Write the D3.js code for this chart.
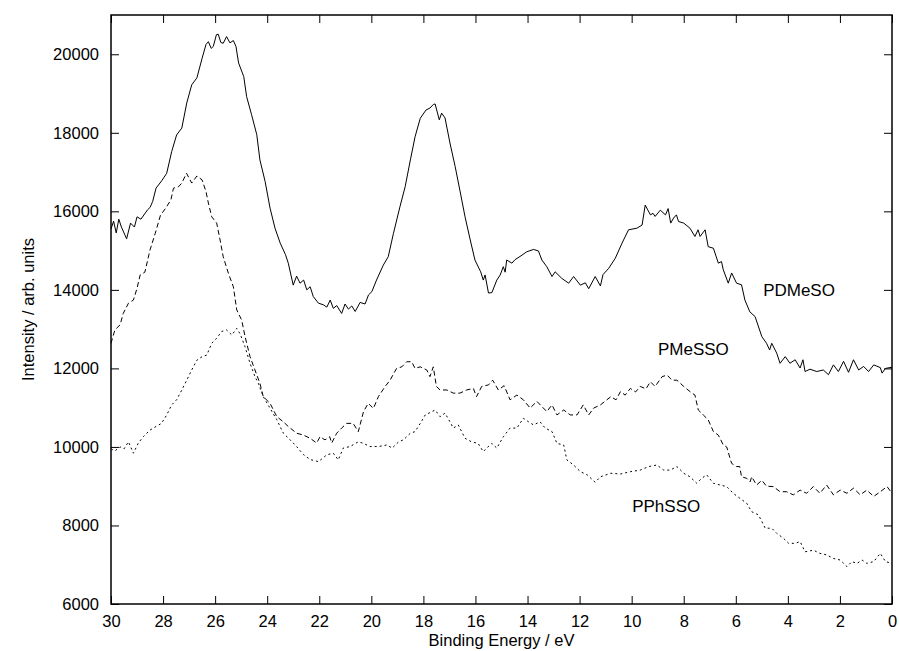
<!DOCTYPE html>
<html>
<head>
<meta charset="utf-8">
<script src="https://cdn.jsdelivr.net/npm/d3@7"></script>
<style>
  body { margin: 0; background: #fff; }
  svg text { font-family: "Liberation Sans", Arial, Helvetica, sans-serif; fill: #000; }
</style>
</head>
<body>
<div id="chart"></div>
<script>
// spectra: [binding energy (eV), intensity]
const pdmeso = [
  [30.0,15550],[29.9,15750],[29.8,15450],[29.7,15800],[29.6,15600],[29.4,15300],[29.25,15700],[29.1,15600],
  [29.0,15860],[28.85,15800],[28.6,16035],[28.5,16100],[28.4,16250],[28.27,16590],[28.05,16780],[27.86,16970],
  [27.67,17520],[27.48,17945],[27.28,18120],[27.09,18760],[26.9,19220],[26.7,19400],[26.5,19900],[26.35,20250],
  [26.26,20320],[26.15,20150],[26.07,20200],[25.95,20500],[25.88,20510],[25.78,20300],[25.69,20280],[25.56,20450],
  [25.43,20290],[25.3,20350],[25.2,20200],[25.1,19780],[24.9,19430],[24.79,18920],[24.6,18460],[24.4,17950],
  [24.28,17310],[24.08,16760],[23.89,16080],[23.7,15570],[23.5,15190],[23.3,14900],[23.19,14680],[23.0,14120],
  [22.87,14350],[22.74,14170],[22.6,14250],[22.48,14000],[22.35,14080],[22.23,13830],[22.03,13660],[21.84,13620],
  [21.71,13560],[21.58,13740],[21.46,13530],[21.33,13600],[21.14,13400],[21.01,13640],[20.88,13510],[20.75,13590],
  [20.62,13450],[20.43,13680],[20.24,13640],[20.11,13870],[19.98,13955],[19.8,14250],[19.54,14630],[19.35,14845],
  [19.15,15440],[18.9,16120],[18.7,16630],[18.5,17310],[18.32,17900],[18.12,18370],[17.9,18580],[17.75,18630],
  [17.62,18720],[17.55,18735],[17.39,18330],[17.3,18500],[17.17,18380],[16.98,17740],[16.78,17140],[16.6,16540],
  [16.4,15860],[16.2,15270],[16.02,14760],[15.8,14460],[15.7,14250],[15.63,14380],[15.5,13920],[15.37,13930],
  [15.18,14250],[15.05,14380],[14.93,14590],[14.86,14450],[14.8,14760],[14.6,14680],[14.48,14770],[14.29,14850],
  [14.03,14970],[13.77,15030],[13.58,14990],[13.45,14760],[13.26,14590],[13.06,14340],[12.94,14460],[12.68,14290],
  [12.42,14170],[12.23,14340],[11.97,14120],[11.78,14180],[11.65,14030],[11.4,14340],[11.2,14100],[11.1,14390],
  [10.88,14550],[10.63,14805],[10.37,15190],[10.12,15530],[9.8,15570],[9.6,15650],[9.48,16160],[9.28,15910],
  [9.18,15950],[9.1,15870],[8.9,16030],[8.7,15910],[8.6,16070],[8.5,15700],[8.39,15830],[8.28,15910],
  [8.2,15740],[8.0,15700],[7.76,15570],[7.57,15360],[7.45,15530],[7.37,15360],[7.18,15530],[7.06,15100],
  [6.86,15060],[6.67,14680],[6.55,14720],[6.48,14510],[6.29,14170],[6.16,14430],[5.97,14170],[5.78,14130],
  [5.65,13740],[5.46,13440],[5.26,13320],[5.0,12810],[4.82,12640],[4.7,12470],[4.62,12640],[4.43,12390],
  [4.3,12130],[4.1,12300],[3.92,12130],[3.72,12220],[3.53,12010],[3.42,12220],[3.34,11920],[3.15,11980],
  [2.89,11920],[2.64,11960],[2.44,11840],[2.25,12090],[2.06,11920],[1.86,12180],[1.67,11900],[1.48,12220],
  [1.28,11960],[1.09,12050],[0.9,11920],[0.7,12090],[0.45,12020],[0.38,11880],[0.25,12000],[0.0,12030]
]

const pmesso = [
  [30.0,12640],[29.85,12980],[29.65,13110],[29.53,13400],[29.33,13660],[29.14,13740],[29.0,14040],[28.88,14380],
  [28.7,14450],[28.5,15020],[28.3,15440],[28.1,15900],[27.9,16080],[27.7,16290],[27.6,16590],[27.4,16630],
  [27.28,16720],[27.1,16970],[26.9,16720],[26.7,16900],[26.5,16800],[26.35,16500],[26.26,16210],[26.13,15860],
  [25.94,15700],[25.81,15270],[25.69,14845],[25.49,14420],[25.3,14080],[25.17,13490],[24.98,13230],[24.85,12810],
  [24.66,12300],[24.47,11960],[24.28,11620],[24.15,11280],[23.89,11110],[23.63,10770],[23.38,10640],[23.19,10520],
  [22.87,10350],[22.6,10300],[22.35,10220],[22.1,10100],[21.97,10260],[21.78,10180],[21.6,10260],[21.52,10100],
  [21.33,10350],[21.14,10480],[20.95,10600],[20.7,10600],[20.5,10390],[20.3,10900],[20.12,11110],[19.92,10980],
  [19.73,11280],[19.47,11540],[19.28,11700],[19.03,12000],[18.83,12040],[18.64,12170],[18.45,12170],[18.32,12000],
  [18.12,12040],[17.87,11960],[17.75,11790],[17.62,12040],[17.5,11540],[17.36,11450],[17.1,11450],[16.85,11370],
  [16.6,11370],[16.34,11450],[16.08,11490],[15.96,11280],[15.76,11540],[15.5,11580],[15.34,11700],[15.12,11450],
  [14.9,11560],[14.67,11200],[14.41,11320],[14.16,11200],[13.9,10990],[13.64,11160],[13.45,11030],[13.26,10900],
  [13.06,11070],[12.87,10815],[12.61,10940],[12.36,10815],[12.1,10815],[11.86,11070],[11.65,10815],[11.46,10990],
  [11.2,11070],[10.8,11280],[10.6,11200],[10.43,11410],[10.25,11320],[10.05,11490],[9.85,11400],[9.67,11540],
  [9.45,11480],[9.28,11660],[9.1,11540],[8.83,11790],[8.64,11830],[8.45,11700],[8.26,11700],[8.0,11540],
  [7.76,11410],[7.57,11320],[7.44,10940],[7.25,10815],[7.06,10690],[6.86,10390],[6.67,10300],[6.48,10050],
  [6.35,10000],[6.16,9580],[5.97,9500],[5.85,9500],[5.78,9240],[5.58,9200],[5.45,9110],[5.39,9240],
  [5.2,9030],[5.0,9150],[4.82,9000],[4.56,8990],[4.3,8860],[4.05,8860],[3.79,8780],[3.53,8900],
  [3.28,8820],[3.02,8990],[2.77,8820],[2.51,9030],[2.25,8780],[1.99,8900],[1.73,8820],[1.48,8950],
  [1.22,8780],[0.97,8900],[0.7,8740],[0.45,8860],[0.19,8990],[0.0,8820]
]

const pphsso = [
  [30.0,9950],[29.85,9900],[29.65,10000],[29.5,9950],[29.33,10130],[29.14,9840],[28.95,10100],[28.76,10260],
  [28.5,10430],[28.27,10520],[28.06,10600],[27.86,10815],[27.67,11070],[27.48,11200],[27.28,11450],[27.09,11700],
  [26.9,11960],[26.7,12210],[26.5,12300],[26.32,12340],[26.13,12640],[25.94,12770],[25.75,12940],[25.56,12980],
  [25.36,12850],[25.17,13020],[25.04,12880],[24.85,12550],[24.66,12130],[24.47,11790],[24.34,11620],[24.15,11280],
  [23.89,10985],[23.63,10690],[23.38,10350],[23.12,10180],[22.87,10010],[22.6,9800],[22.35,9680],[22.03,9625],
  [21.71,9800],[21.46,9840],[21.27,9670],[21.08,9970],[20.82,10010],[20.5,10130],[20.3,10090],[20.05,10010],
  [19.73,10010],[19.4,10050],[19.2,9970],[18.95,10130],[18.77,10180],[18.5,10350],[18.32,10390],[18.12,10600],
  [17.93,10815],[17.67,10900],[17.55,10940],[17.36,10770],[17.17,10860],[16.98,10640],[16.85,10480],[16.66,10560],
  [16.4,10220],[16.15,10130],[15.9,10090],[15.7,9880],[15.57,9970],[15.37,10090],[15.18,9970],[14.93,10260],
  [14.67,10480],[14.41,10480],[14.16,10730],[13.96,10640],[13.77,10560],[13.52,10640],[13.32,10480],[13.06,10390],
  [12.87,10090],[12.61,10050],[12.49,9670],[12.23,9540],[11.97,9370],[11.71,9290],[11.4,9100],[11.2,9240],
  [10.8,9330],[10.43,9310],[10.05,9370],[9.67,9410],[9.35,9500],[9.03,9540],[8.77,9410],[8.52,9410],
  [8.26,9500],[8.0,9330],[7.76,9240],[7.5,9075],[7.31,9200],[7.12,9290],[6.86,9075],[6.6,9030],
  [6.35,8990],[6.1,8820],[5.84,8690],[5.58,8565],[5.39,8350],[5.13,8270],[4.87,7930],[4.62,7930],
  [4.43,7800],[4.17,7675],[3.97,7545],[3.72,7545],[3.53,7590],[3.34,7330],[3.02,7370],[2.77,7290],
  [2.51,7250],[2.25,7160],[1.99,7120],[1.73,6950],[1.54,7080],[1.34,7035],[1.15,7120],[0.97,7035],
  [0.7,7080],[0.45,7290],[0.25,7080],[0.0,7035]
]

const xTicks = [30, 28, 26, 24, 22, 20, 18, 16, 14, 12, 10, 8, 6, 4, 2, 0]
const yTicks = [6000, 8000, 10000, 12000, 14000, 16000, 18000, 20000]

// label anchors in data units (energy, intensity)
const seriesLabels = [
  {name: "PDMeSO", e: 4.95, v: 13845},
  {name: "PMeSSO", e: 8.99, v: 12342},
  {name: "PPhSSO", e: 9.98, v: 8343}
]

const width = 899, height = 651
const margin = {top: 15, right: 7, bottom: 47, left: 111}
const w = width - margin.left - margin.right
const h = height - margin.top - margin.bottom

const svg = d3.select("#chart").append("svg")
  .attr("width", width)
  .attr("height", height)

const g = svg.append("g")
  .attr("transform", "translate(" + margin.left + "," + margin.top + ")")

const x = d3.scaleLinear().domain([30, 0]).range([0, w])
const y = d3.scaleLinear().domain([6000, 21000]).range([h, 0])

const fontSize = "16.5px"

// axes, ticks pointing inwards on all four sides
const axisB = g.append("g")
  .attr("transform", "translate(0," + h + ")")
  .call(d3.axisBottom(x).tickValues(xTicks).tickSizeInner(-8).tickSizeOuter(0).tickPadding(11).tickFormat(d3.format("d")))
const axisT = g.append("g")
  .call(d3.axisTop(x).tickValues(xTicks).tickSizeInner(-8).tickSizeOuter(0).tickFormat(""))
const axisL = g.append("g")
  .call(d3.axisLeft(y).tickValues(yTicks).tickSizeInner(-8).tickSizeOuter(0).tickPadding(12).tickFormat(d3.format("d")))
const axisR = g.append("g")
  .attr("transform", "translate(" + w + ",0)")
  .call(d3.axisRight(y).tickValues(yTicks).tickSizeInner(-8).tickSizeOuter(0).tickFormat(""))

;[axisB, axisT, axisL, axisR].forEach(a => {
  a.select(".domain").remove()
  a.selectAll(".tick line").attr("stroke", "#000").attr("stroke-width", 1)
  a.selectAll(".tick text").style("font-size", fontSize).attr("fill", "#000")
})

// plot frame
g.append("rect")
  .attr("width", w)
  .attr("height", h)
  .attr("fill", "none")
  .attr("stroke", "#000")
  .attr("stroke-width", 1.5)

const line = d3.line().x(d => x(d[0])).y(d => y(d[1]))

const series = [
  {data: pdmeso, dash: null},
  {data: pmesso, dash: "5,3"},
  {data: pphsso, dash: "2,3"}
]

g.selectAll(".spectrum")
  .data(series)
  .join("path")
  .attr("class", "spectrum")
  .attr("d", d => line(d.data))
  .attr("fill", "none")
  .attr("stroke", "#000")
  .attr("stroke-width", 1)
  .attr("stroke-dasharray", d => d.dash)

g.selectAll(".series-label")
  .data(seriesLabels)
  .join("text")
  .attr("class", "series-label")
  .attr("x", d => x(d.e))
  .attr("y", d => y(d.v))
  .style("font-size", "17px")
  .text(d => d.name)

// axis titles
svg.append("text")
  .attr("x", margin.left + w / 2)
  .attr("y", 646)
  .attr("text-anchor", "middle")
  .style("font-size", fontSize)
  .text("Binding Energy / eV")

svg.append("text")
  .attr("transform", "translate(34," + (margin.top + h / 2) + ") rotate(-90)")
  .attr("text-anchor", "middle")
  .style("font-size", fontSize)
  .text("Intensity / arb. units")
</script>
</body>
</html>
